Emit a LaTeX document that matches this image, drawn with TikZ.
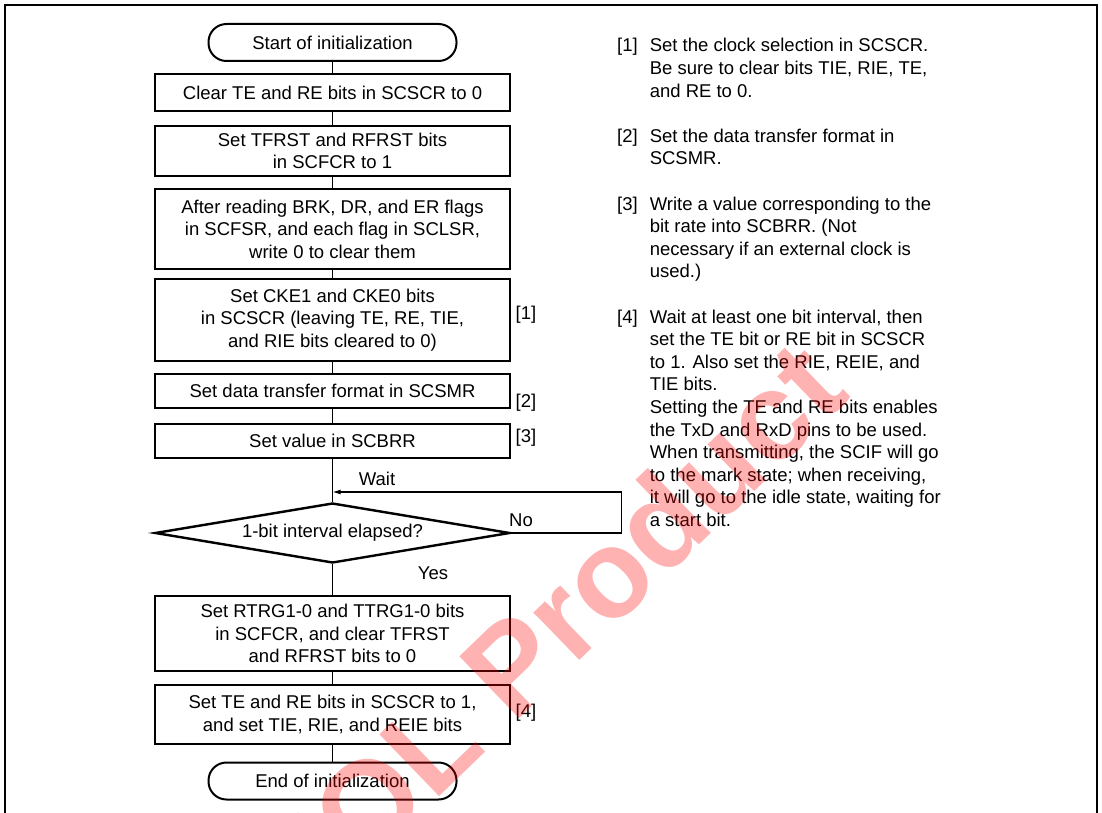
\documentclass[tikz,border=0pt]{standalone}
\usepackage{fontspec}
\setmainfont{Liberation Sans}
\usetikzlibrary{shapes.geometric,arrows.meta}

\tikzset{
  etape/.style={draw, line width=2.4pt, minimum width=355pt, inner sep=2pt, align=center},
  borne/.style={draw, line width=2pt, rounded corners=18pt, minimum width=248pt, minimum height=37pt},
  test/.style={draw, diamond, aspect=5.9, line width=2.4pt, minimum width=355pt, minimum height=60pt, inner sep=0pt},
  lien/.style={line width=1.2pt},
  note/.style={anchor=north west, inner sep=0pt}
}

\begin{document}
\begin{tikzpicture}[x=1pt, y=-1pt, font=\fontsize{18.5}{22.6}\selectfont]

\useasboundingbox (0,0) rectangle (1102,813);

% Cadre
\draw[line width=2.5pt] (5,813) -- (5,5) -- (1097,5) -- (1097,813);

% Organigramme
\node[borne] (start) at (332.5,42.5) {Start of initialization};

\node[etape, minimum height=37] (clr) at (332.5,92.5)
{Clear TE and RE bits in SCSCR to 0};

\node[etape, minimum height=50] (rst) at (332.5,151)
{Set TFRST and RFRST bits\\in SCFCR to 1};

\node[etape, minimum height=80] (flags) at (332.5,229)
{After reading BRK, DR, and ER flags\\in SCFSR, and each flag in SCLSR,\\write 0 to clear them};

\node[etape, minimum height=82] (cke) at (332.5,320)
{Set CKE1 and CKE0 bits\\in SCSCR (leaving TE, RE, TIE,\\and RIE bits cleared to 0)};

\node[etape, minimum height=34] (fmt) at (332.5,391)
{Set data transfer format in SCSMR};

\node[etape, minimum height=34] (brr) at (332.5,441)
{Set value in SCBRR};

\node[test] (elapsed) at (332.5,533)
{1-bit interval elapsed?};

\node[etape, minimum height=75] (trg) at (332.5,633.5)
{Set RTRG1-0 and TTRG1-0 bits\\in SCFCR, and clear TFRST\\and RFRST bits to 0};

\node[etape, minimum height=59] (enable) at (332.5,714.5)
{Set TE and RE bits in SCSCR to 1,\\and set TIE, RIE, and REIE bits};

\node[borne] (fin) at (332.5,781) {End of initialization};

\foreach \a/\b in {start/clr, clr/rst, rst/flags, flags/cke, cke/fmt, fmt/brr, brr/elapsed, elapsed/trg, trg/enable, enable/fin}
{
\draw[lien] (\a) -- (\b);
}

% Boucle d'attente
\coordinate (attente) at (332.5,492);

\draw[lien, -{Latex[length=8pt, width=5pt]}] (elapsed.east) -- ++(110,0) |- (attente);

\node (wait) at (377,479) {Wait};

\node (no) at (521,520) {No};

\node (yes) at (433,573) {Yes};

% Reperes
\node (t1) at (526,315) {[1]};

\node (t2) at (526,403) {[2]};

\node (t3) at (526,438) {[3]};

\node (t4) at (526,713) {[4]};

% Notes
\node[note] (note1) at (617,35.8)
{\begin{tabular}{@{}l@{\hspace{12pt}}l@{}}[1] & Set the clock selection in SCSCR.\\ & Be sure to clear bits TIE, RIE, TE,\\ & and RE to 0.\end{tabular}};

\node[note] (note2) at (617,126.2)
{\begin{tabular}{@{}l@{\hspace{12pt}}l@{}}[2] & Set the data transfer format in\\ & SCSMR.\end{tabular}};

\node[note] (note3) at (617,194)
{\begin{tabular}{@{}l@{\hspace{12pt}}l@{}}[3] & Write a value corresponding to the\\ & bit rate into SCBRR. (Not\\ & necessary if an external clock is\\ & used.)\end{tabular}};

\node[note] (note4) at (617,307)
{\begin{tabular}{@{}l@{\hspace{12pt}}l@{}}[4] & Wait at least one bit interval, then\\ & set the TE bit or RE bit in SCSCR\\ & to 1. Also set the RIE, REIE, and\\ & TIE bits.\\ & Setting the TE and RE bits enables\\ & the TxD and RxD pins to be used.\\ & When transmitting, the SCIF will go\\ & to the mark state; when receiving,\\ & it will go to the idle state, waiting for\\ & a start bit.\end{tabular}};

% Filigrane
\node[rotate=44, text=red, opacity=0.3, font=\fontsize{125}{125}\selectfont\bfseries] (eol) at (547,630) {EOL Product};

\end{tikzpicture}
\end{document}
